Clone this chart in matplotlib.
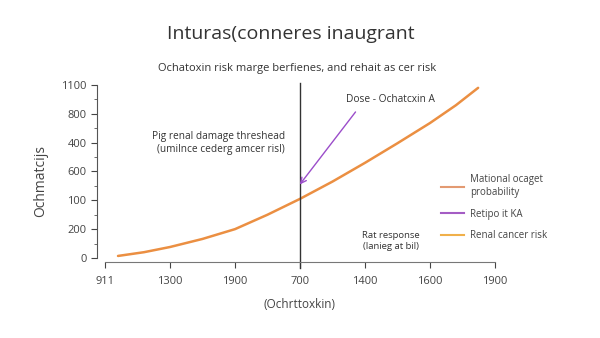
import numpy as np
import matplotlib
matplotlib.use('Agg')
import matplotlib.pyplot as plt
from matplotlib.lines import Line2D
from matplotlib.ticker import MultipleLocator

plt.rcParams['font.family'] = ['Open Sans', 'DejaVu Sans']

# data
x_labels = ['911', '1300', '1900', '700', '1400', '1600', '1900']
y_labels = ['0', '200', '100', '600', '400', '800', '1100']
curve_x = [0.2, 0.6, 1.0, 1.5, 2.0, 2.5, 3.0, 3.5, 4.0, 4.5, 5.0, 5.4, 5.74]
curve_y = [0.07, 0.2, 0.38, 0.66, 1.0, 1.5, 2.05, 2.65, 3.3, 3.98, 4.68, 5.3, 5.9]
threshold_x = 3.0
arrow_start = (3.88, 5.14)
arrow_end = (2.97, 2.47)
legend_names = ['Mational ocaget\nprobability', 'Retipo it KA', 'Renal cancer risk']
legend_colors = ['#e39a72', '#a45cc4', '#f0b04a']

fig = plt.figure(figsize=(6, 3.38), dpi=100)
ax = fig.add_axes([0.1617, 0.224, 0.685, 0.5417])
ax.set_xlim(-0.123, 6.2)
ax.set_ylim(-0.15, 6.2)

ax.plot(curve_x, curve_y, color='#eb8f42', lw=1.8, solid_capstyle='round')
ax.plot([threshold_x, threshold_x], [-0.35, 6.07], color='#333333', lw=1, clip_on=False)
ax.annotate('', xy=arrow_end, xytext=arrow_start,
            arrowprops=dict(arrowstyle='->', color='#9b4dca', lw=1))

ax.text(2.77, 4.0, 'Pig renal damage threshead\n(umilnce cederg amcer risl)',
        ha='right', va='center', fontsize=7.3, color='#333333', linespacing=1.25)
ax.text(3.7, 5.5, 'Dose - Ochatcxin A', ha='left', va='center', fontsize=7.3, color='#333333')
ax.text(4.4, 0.6, 'Rat response\n(lanieg at bil)', ha='center', va='center',
        fontsize=6.8, color='#333333', linespacing=1.3)

for s in ['top', 'right']:
    ax.spines[s].set_visible(False)
ax.spines['left'].set_bounds(0, 6)
ax.spines['bottom'].set_bounds(0, 6)
ax.spines['left'].set_color('#555555')
ax.spines['bottom'].set_color('#777777')

ax.set_xticks(range(7))
ax.set_xticklabels(x_labels)
ax.set_yticks(range(7))
ax.set_yticklabels(y_labels)
ax.yaxis.set_minor_locator(MultipleLocator(0.5))
ax.tick_params(axis='both', labelsize=8, colors='#444444', length=4, width=0.8)
ax.tick_params(axis='y', which='minor', length=2.5, color='#555555')
ax.tick_params(axis='x', pad=6)

fig.text(0.485, 0.9, 'Inturas(conneres inaugrant', ha='center', va='center',
         fontsize=14, color='#333333')
fig.text(0.495, 0.796, 'Ochatoxin risk marge berfienes, and rehait as cer risk',
         ha='center', va='center', fontsize=8, color='#333333')
fig.text(0.067, 0.465, 'Ochmatcijs', rotation=90, ha='center', va='center',
         fontsize=10, color='#444444')
fig.text(0.5, 0.10, '(Ochrttoxkin)', ha='center', va='center', fontsize=8.5, color='#444444')

handles = [Line2D([], [], color=c, lw=1.5) for c in legend_colors]
fig.legend(handles, legend_names, loc='upper left', bbox_to_anchor=(0.72, 0.51),
           frameon=False, fontsize=7, handlelength=2.4, labelspacing=1.1,
           handletextpad=0.6, labelcolor='#444444')

plt.savefig('out.png', dpi=100)
